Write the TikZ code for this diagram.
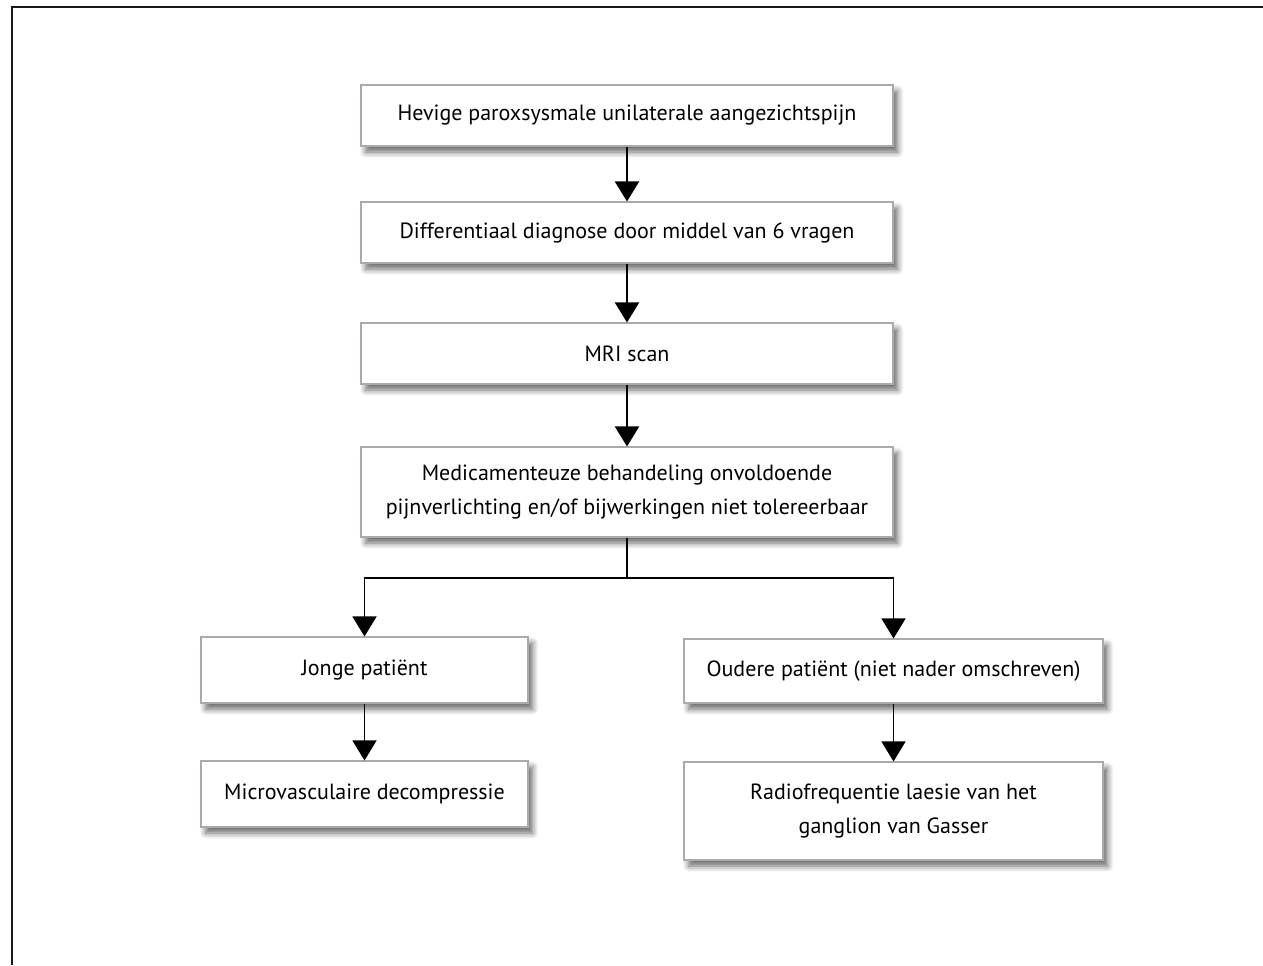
\documentclass[tikz,border=0pt]{standalone}
\usepackage{fontspec}
\setmainfont{PT Sans}
\usetikzlibrary{arrows.meta,shadows.blur}
\definecolor{boxline}{RGB}{170,170,170}
\tikzset{
  box/.style={draw=boxline, line width=0.8pt, fill=white, align=center,
    inner sep=0pt, font=\fontsize{16.5}{25.5}\selectfont,
    blur shadow={shadow xshift=3.5pt, shadow yshift=-4.5pt, shadow blur steps=6, shadow blur radius=4.5pt, shadow opacity=60}},
  arr/.style={line width=1.6pt, -{Triangle[width=18pt,length=15pt]}},
  arrthin/.style={line width=1pt, -{Triangle[width=18pt,length=15pt]}},
  frame/.style={line width=1.6pt, draw=black!90}
}
\begin{document}
\begin{tikzpicture}[x=0.75pt,y=-0.75pt]
\useasboundingbox (0,0) rectangle (1263,965);
\draw[frame] (12,965) -- (12,7) -- (1263,7);
\node[box, minimum width=399pt, minimum height=45.75pt] (b1) at (627,115.5) {Hevige paroxsysmale unilaterale aangezichtspijn};
\node[box, minimum width=399pt, minimum height=45.75pt] (b2) at (627,232.5) {Differentiaal diagnose door middel van 6 vragen};
\node[box, minimum width=399pt, minimum height=45.75pt] (b3) at (627,353.5) {MRI scan};
\node[box, minimum width=399pt, minimum height=67.5pt] (b4) at (627,492) {Medicamenteuze behandeling onvoldoende\\pijnverlichting en/of bijwerkingen niet tolereerbaar};
\node[box, minimum width=245.25pt, minimum height=49.5pt] (jonge) at (364.5,670) {Jonge patiënt};
\node[box, minimum width=245.25pt, minimum height=49.5pt] (micro) at (364.5,794) {Microvasculaire decompressie};
\node[box, minimum width=314.25pt, minimum height=48pt] (oudere) at (893.5,671) {Oudere patiënt (niet nader omschreven)};
\node[box, minimum width=314.25pt, minimum height=73.5pt] (radio) at (893.5,811) {Radiofrequentie laesie van het\\ganglion van Gasser};
\coordinate (split) at (627,578);
\draw[arr] (b1) -- (b2);
\draw[arr] (b2) -- (b3);
\draw[arr] (b3) -- (b4);
\draw[line width=1.6pt] (b4) -- (split);
\draw[arrthin] (split) -| (jonge.north);
\draw[arrthin] (split) -| (oudere.north);
\draw[arrthin] (jonge) -- (micro);
\draw[arrthin] (oudere) -- (radio);
\end{tikzpicture}
\end{document}
